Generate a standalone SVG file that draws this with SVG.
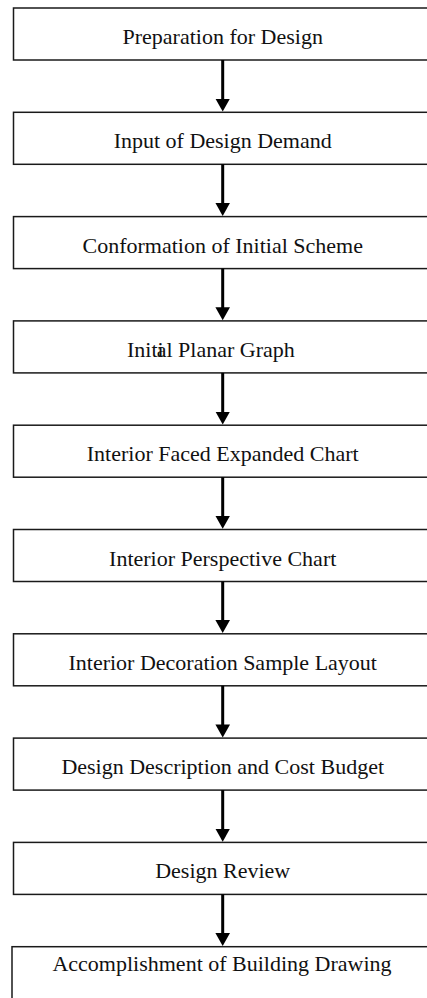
<svg xmlns="http://www.w3.org/2000/svg" width="427" height="998" viewBox="0 0 427 998">
<style>
.box{fill:#fff;stroke:#1a1a1a;stroke-width:1.5}
.lbl{font-family:"Liberation Serif","Times New Roman",serif;font-size:22px;fill:#111;text-anchor:middle}
.conn{stroke:#000;stroke-width:3;fill:none;marker-end:url(#ah)}
</style>
<defs>
<marker id="ah" markerUnits="userSpaceOnUse" markerWidth="14" markerHeight="15" viewBox="0 0 14 15" refX="3" refY="7.3" orient="auto">
<path d="M0,0 L13,7.3 L0,14.6 z" fill="#000"/>
</marker>
</defs>
<rect width="427" height="998" fill="#fff"/>
<g id="n1"><rect class="box" x="13.5" y="8" width="425" height="52"/><text class="lbl" x="222.7" y="44">Preparation for Design</text></g>
<g id="n2"><rect class="box" x="13.5" y="112.3" width="425" height="52"/><text class="lbl" x="222.7" y="148.3">Input of Design Demand</text></g>
<g id="n3"><rect class="box" x="13.5" y="216.6" width="425" height="52"/><text class="lbl" x="222.7" y="252.6">Conformation of Initial Scheme</text></g>
<g id="n4"><rect class="box" x="13.5" y="320.9" width="425" height="52"/><text class="lbl" x="127" y="356.9" dx="0 0 0 0 0 -7" style="text-anchor:start">Initial Planar Graph</text></g>
<g id="n5"><rect class="box" x="13.5" y="425.2" width="425" height="52"/><text class="lbl" x="222.7" y="461.2">Interior Faced Expanded Chart</text></g>
<g id="n6"><rect class="box" x="13.5" y="529.5" width="425" height="52"/><text class="lbl" x="222.7" y="565.5">Interior Perspective Chart</text></g>
<g id="n7"><rect class="box" x="13.5" y="633.8" width="425" height="52"/><text class="lbl" x="222.7" y="669.8">Interior Decoration Sample Layout</text></g>
<g id="n8"><rect class="box" x="13.5" y="738.1" width="425" height="52"/><text class="lbl" x="222.7" y="774.1">Design Description and Cost Budget</text></g>
<g id="n9"><rect class="box" x="13.5" y="842.4" width="425" height="52"/><text class="lbl" x="222.7" y="878.4">Design Review</text></g>
<g id="n10"><rect class="box" x="12" y="946.7" width="425" height="70"/><text class="lbl" x="222" y="971">Accomplishment of Building Drawing</text></g>
<g id="connectors">
<line class="conn" x1="222.7" y1="60" x2="222.7" y2="101.6"/>
<line class="conn" x1="222.7" y1="164.3" x2="222.7" y2="205.9"/>
<line class="conn" x1="222.7" y1="268.6" x2="222.7" y2="310.2"/>
<line class="conn" x1="222.7" y1="372.9" x2="222.7" y2="414.5"/>
<line class="conn" x1="222.7" y1="477.2" x2="222.7" y2="518.8"/>
<line class="conn" x1="222.7" y1="581.5" x2="222.7" y2="623.1"/>
<line class="conn" x1="222.7" y1="685.8" x2="222.7" y2="727.4"/>
<line class="conn" x1="222.7" y1="790.1" x2="222.7" y2="831.7"/>
<line class="conn" x1="222.7" y1="894.4" x2="222.7" y2="936"/>
</g>
</svg>
